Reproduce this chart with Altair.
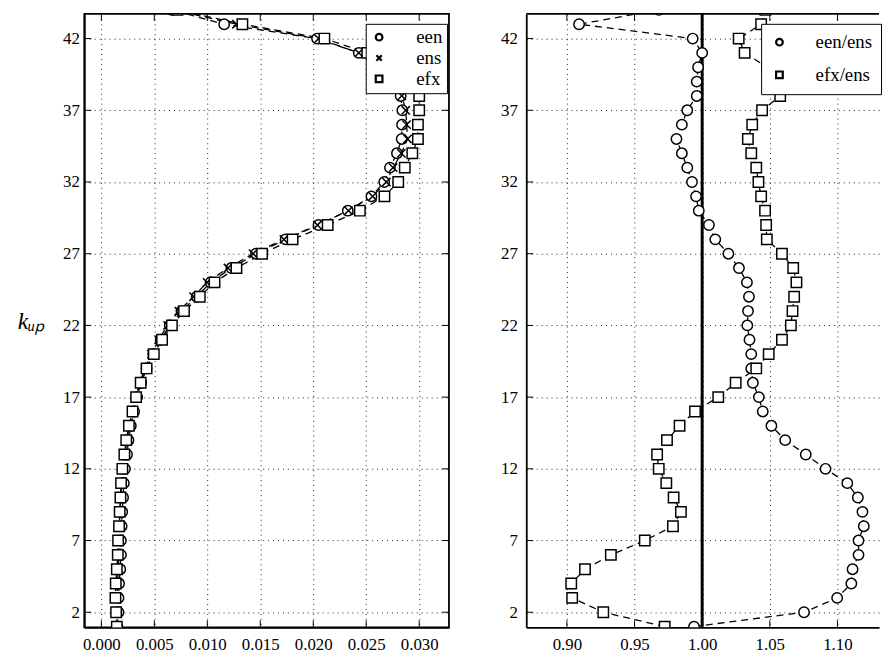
import altair as alt
import pandas as pd

# ---- data ----
k = list(range(1, 45))

een = [0.00149, 0.00161, 0.00162, 0.00167, 0.00178, 0.00185, 0.00184, 0.00191, 0.00197, 0.00205,
       0.00212, 0.00223, 0.00242, 0.00256, 0.00278, 0.00309, 0.00338, 0.00376, 0.00426, 0.00489,
       0.00560, 0.00646, 0.00756, 0.00900, 0.01031, 0.01227, 0.01460, 0.01739, 0.02050, 0.02326,
       0.02549, 0.02670, 0.02724, 0.02790, 0.02835, 0.02838, 0.02841, 0.02825, 0.02753, 0.02642,
       0.02430, 0.02036, 0.01159, 0.00664]

ens = [0.00150, 0.00150, 0.00147, 0.00151, 0.00160, 0.00166, 0.00165, 0.00171, 0.00176, 0.00184,
       0.00191, 0.00205, 0.00224, 0.00241, 0.00264, 0.00296, 0.00324, 0.00362, 0.00411, 0.00472,
       0.00541, 0.00625, 0.00731, 0.00870, 0.00998, 0.01195, 0.01432, 0.01723, 0.02040, 0.02332,
       0.02560, 0.02690, 0.02754, 0.02832, 0.02890, 0.02881, 0.02873, 0.02836, 0.02764, 0.02650,
       0.02430, 0.02050, 0.01275, 0.00686]

efx = [0.00146, 0.00139, 0.00133, 0.00136, 0.00146, 0.00155, 0.00158, 0.00167, 0.00173, 0.00180,
       0.00186, 0.00198, 0.00217, 0.00235, 0.00260, 0.00294, 0.00328, 0.00371, 0.00427, 0.00495,
       0.00573, 0.00666, 0.00780, 0.00929, 0.01068, 0.01275, 0.01517, 0.01805, 0.02136, 0.02440,
       0.02672, 0.02802, 0.02864, 0.02935, 0.02988, 0.02988, 0.03000, 0.03000, 0.02930, 0.02777,
       0.02510, 0.02105, 0.01331, 0.00718]

een_ens = [0.994, 1.0753, 1.0998, 1.1103, 1.1112, 1.1156, 1.1156, 1.1195, 1.1185, 1.1151,
           1.1073, 1.0912, 1.0766, 1.0614, 1.0512, 1.0448, 1.0419, 1.0375, 1.0363, 1.0363,
           1.0350, 1.0334, 1.0339, 1.0346, 1.0331, 1.0272, 1.0194, 1.0097, 1.0050, 0.9975,
           0.9955, 0.9925, 0.9890, 0.9850, 0.9810, 0.9850, 0.9890, 0.9960, 0.9960, 0.9970,
           1.0000, 0.9930, 0.9090, 0.9680]

efx_ens = [0.9723, 0.9269, 0.9039, 0.9032, 0.9134, 0.9325, 0.9576, 0.9784, 0.9843, 0.9789,
           0.9735, 0.9679, 0.9667, 0.9740, 0.9833, 0.9947, 1.0119, 1.0248, 1.0400, 1.0492,
           1.0590, 1.0656, 1.0668, 1.0680, 1.0697, 1.0673, 1.0590, 1.0478, 1.0473, 1.0465,
           1.0436, 1.0416, 1.0400, 1.0363, 1.0338, 1.0370, 1.0443, 1.0577, 1.0600, 1.0480,
           1.0314, 1.0270, 1.0436, 1.0468]

left_names = ["een", "ens", "efx"]
right_names = ["een/ens", "efx/ens"]
reference_ratio = [1.0]

y_ticks = [2, 7, 12, 17, 22, 27, 32, 37, 42]
left_x_ticks = [0.000, 0.005, 0.010, 0.015, 0.020, 0.025, 0.030]
right_x_ticks = [0.90, 0.95, 1.00, 1.05, 1.10]

# ---- tables ----
def long_table(names, series):
    rows = []
    for name, vals in zip(names, series):
        for kk, v in zip(k, vals):
            rows.append({"series": name, "k": kk, "value": v})
    return pd.DataFrame(rows)

left_df = long_table(left_names, [een, ens, efx])
right_df = long_table(right_names, [een_ens, efx_ens])
ref_df = pd.DataFrame({"value": reference_ratio})
ytick_df = pd.DataFrame({"k": y_ticks})
lxtick_df = pd.DataFrame({"value": left_x_ticks})
rxtick_df = pd.DataFrame({"value": right_x_ticks})

FONT = "Liberation Serif"
XPATH = "M-0.8,-0.8L0.8,0.8M-0.8,0.8L0.8,-0.8"
WL, WR, H = 368, 356, 619
TICK = 7
Y_DOMAIN = [0.95, 43.72]
LX_DOMAIN = [-0.00161, 0.03281]
RX_DOMAIN = [0.86996, 0.86996 + WR / 1365.0]


def y_enc(show_title, label_pad):
    axis_kw = dict(values=y_ticks, labelPadding=label_pad)
    if show_title:
        axis_kw.update(title="kᵤₚ", titleAngle=0, titleAlign="right",
                       titleBaseline="alphabetic", titleX=-40, titleY=317,
                       titleFont=FONT, titleFontSize=24, titleFontStyle="italic",
                       titleFontWeight="normal", titleColor="black")
    else:
        axis_kw.update(title=None)
    return alt.Y("k:Q", scale=alt.Scale(domain=Y_DOMAIN, nice=False, zero=False),
                 axis=alt.Axis(**axis_kw))


def legend(x, y, font, pad, rowpad, lab_off):
    return alt.Legend(orient="none", legendX=x, legendY=y, title=None,
                      fillColor="white", strokeColor="black", padding=pad,
                      labelFont=FONT, labelFontSize=font, labelColor="black",
                      labelOffset=lab_off, symbolSize=45, symbolStrokeWidth=2.2,
                      rowPadding=rowpad, cornerRadius=0)


def lines(df, x, y):
    return alt.Chart(df).mark_line(
        color="black", strokeDash=[7, 5], strokeWidth=1.3, clip=True
    ).encode(x=x, y=y, detail="series:N", order="k:Q")


def points(df, names, shapes, leg, x, y):
    return alt.Chart(df).mark_point(
        filled=False, color="black", fill="white", fillOpacity=1, stroke="black",
        strokeWidth=1.5, size=110, opacity=1, clip=True
    ).encode(
        x=x, y=y,
        shape=alt.Shape("series:N", scale=alt.Scale(domain=names, range=shapes), legend=leg),
    )


def inner_ticks(xdf, x, y, width, sides):
    out = []
    if "bottom" in sides:
        out.append(alt.Chart(xdf).mark_rule(color="black", strokeWidth=1).encode(
            x=x, y=alt.value(H), y2=alt.value(H - TICK)))
    if "top" in sides:
        out.append(alt.Chart(xdf).mark_rule(color="black", strokeWidth=1).encode(
            x=x, y=alt.value(0), y2=alt.value(TICK)))
    if "left" in sides:
        out.append(alt.Chart(ytick_df).mark_rule(color="black", strokeWidth=1).encode(
            y=y, x=alt.value(0), x2=alt.value(TICK)))
    if "right" in sides:
        out.append(alt.Chart(ytick_df).mark_rule(color="black", strokeWidth=1).encode(
            y=y, x=alt.value(width - TICK), x2=alt.value(width)))
    return out


# ---- left panel ----
lx = alt.X("value:Q", scale=alt.Scale(domain=LX_DOMAIN, nice=False, zero=False),
           axis=alt.Axis(values=left_x_ticks, format=".3f", title=None, labelPadding=9))
ly = y_enc(True, 5)

left = alt.layer(
    *inner_ticks(lxtick_df, lx, ly, WL, ["bottom", "top", "left", "right"]),
    lines(left_df, lx, ly),
    points(left_df, left_names, ["circle", XPATH, "square"],
           legend(284, 10, 19, 4, 1, 28), lx, ly),
).properties(width=WL, height=H)

# ---- right panel ----
rx = alt.X("value:Q", scale=alt.Scale(domain=RX_DOMAIN, nice=False, zero=False),
           axis=alt.Axis(values=right_x_ticks, format=".2f", title=None, labelPadding=9))
ry = y_enc(False, 9)

top_edge = alt.Chart(ref_df).mark_rule(color="black", strokeWidth=1.8).encode(
    x=alt.value(0), x2=alt.value(WR), y=alt.value(0)
)

right_rule = alt.Chart(ref_df).mark_rule(color="black", strokeWidth=3).encode(x=rx)

right = alt.layer(
    top_edge,
    *inner_ticks(rxtick_df, rx, ry, WR, ["bottom", "top", "left"]),
    right_rule,
    lines(right_df, rx, ry),
    points(right_df, right_names, ["circle", "square"],
           legend(237, 10, 19, 9, 13, 27), rx, ry),
).properties(width=WR, height=H, view=alt.ViewBackground(stroke="transparent"))

chart = alt.concat(left, right, columns=2, spacing=49, align="none").resolve_scale(
    x="independent", y="independent", shape="independent"
).resolve_legend(shape="independent").properties(
    padding={"left": 8, "top": 0, "right": 0, "bottom": 0}
).configure_view(
    stroke="black", strokeWidth=1.8
).configure_axis(
    grid=True, gridColor="#222222", gridDash=[1, 4], gridWidth=1,
    ticks=False, domain=True, domainColor="black", domainWidth=1.8,
    labelFont=FONT, labelFontSize=17, labelColor="black",
)

chart.save("out.html", embed_options={"renderer": "svg", "actions": False})
